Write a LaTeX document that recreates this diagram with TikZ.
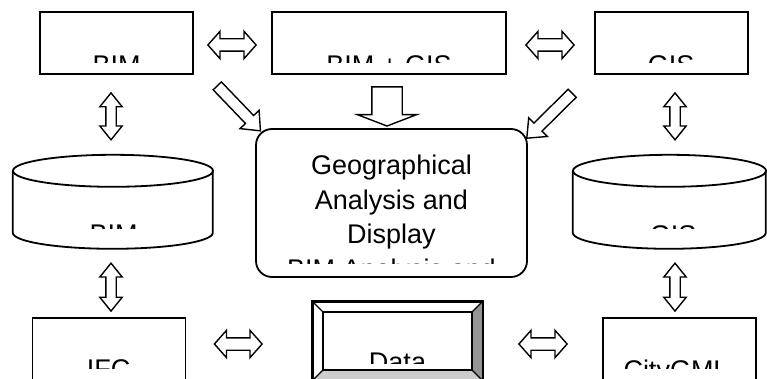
\documentclass[tikz,border=0pt]{standalone}
\usepackage{fontspec}
\setmainfont{Liberation Sans}
\usetikzlibrary{positioning, calc, shapes.arrows}

\tikzset{
  box/.style={draw, line width=1.8pt, minimum width=153pt, minimum height=62pt, inner sep=0pt},
  store/.style={minimum width=200pt, minimum height=94pt, inner sep=0pt},
  word/.style={anchor=base, inner sep=0pt, font=\fontsize{27pt}{34pt}\selectfont},
  twoway/.style={double arrow, draw, line width=1.4pt, inner xsep=0pt, inner ysep=5.5pt,
    double arrow head extend=7.5pt, double arrow tip angle=97},
  updown/.style={double arrow, draw, line width=1.4pt, inner xsep=0pt, inner ysep=4.5pt,
    double arrow head extend=6pt, double arrow tip angle=78},
  slant/.style={single arrow, draw, line width=1.4pt, inner xsep=0pt, inner ysep=5pt,
    single arrow head extend=7.5pt, single arrow tip angle=80},
  bulky/.style={single arrow, draw, line width=1.4pt, inner xsep=0pt, inner ysep=14.5pt,
    single arrow head extend=14.5pt, single arrow tip angle=138},
}

% fat outlined arrow between two named points
\newcommand{\fatlink}[4]{%
  \path let \p1=(#2), \p2=(#3),
    \n1={atan2(\y2-\y1,\x2-\x1)}, \n2={veclen(\x2-\x1,\y2-\y1)}
  in node[#1, rotate=\n1, minimum height=\n2] (#4) at ($(\p1)!0.5!(\p2)$) {};}

% label whose lower part is cut away at height #4
\newcommand{\cutword}[5]{%
  \begin{scope}
    \clip (#2-160,0) rectangle (#2+160,#4);
    \node[word] (#1) at (#2,#3) {#5};
  \end{scope}}

% drum outline round a store node, #2 = x radius
\newcommand{\drum}[2]{%
  \draw[line width=1.8pt] (#1.north west) ++(0,16) -- ++(0,62)
    arc[start angle=180, end angle=360, x radius=#2pt, y radius=16pt] -- ++(0,-62);
  \draw[line width=1.8pt] (#1.north) ++(0,16) ellipse [x radius=#2pt, y radius=16pt];}

\begin{document}
\begin{tikzpicture}[x=1pt, y=-1pt]
  \clip (0,0) rectangle (767,379);

  % top row
  \node[box] (bim) at (116.5,43) {};
  \node[box, minimum width=234pt] (bimgis) at (389,43) {};
  \node[box] (gis) at (671.5,43) {};

  % stores
  \node[store] (bimdb) at (113,202) {};
  \node[store, minimum width=193pt] (gisdb) at (669.5,202) {};
  \drum{bimdb}{100}
  \drum{gisdb}{96.5}

  % centre
  \node[draw, line width=1.8pt, rounded corners=16pt, minimum width=271pt,
    minimum height=148pt] (geo) at (391.5,203) {};

  % bottom row
  \node[box, minimum height=61.5pt] (ifc) at (109,348.75) {};
  \node[draw, line width=1.8pt, minimum width=169pt, minimum height=78pt] (data) at (397.5,341) {};
  \node[box, minimum height=61.5pt] (citygml) at (679.5,348.75) {};

  % bevel of the data box
  \path (data.north west) ++(11,11) coordinate (dnw);
  \path (data.north east) ++(-11,11) coordinate (dne);
  \path (data.south east) ++(-11,-11) coordinate (dse);
  \path (data.south west) ++(11,-11) coordinate (dsw);
  \fill[black!42] (data.north east) -- (dne) -- (dse) -- (data.south east) -- cycle;
  \fill[black!20] (data.south west) -- (dsw) -- (dse) -- (data.south east) -- cycle;
  \draw[line width=1.8pt] (data.north west) rectangle (data.south east);
  \draw[line width=1.8pt] (dnw) rectangle (dse);
  \draw[line width=1.3pt] (data.north west) -- (dnw);
  \draw[line width=1.3pt] (data.north east) -- (dne);
  \draw[line width=1.3pt] (data.south east) -- (dse);
  \draw[line width=1.3pt] (data.south west) -- (dsw);

  % labels
  \cutword{bimtxt}{116.5}{74.3}{63}{BIM}
  \cutword{bimgistxt}{389}{74.3}{63}{BIM + GIS}
  \cutword{gistxt}{671}{74.3}{63}{GIS}
  \cutword{bimdbtxt}{113.5}{243.3}{228}{BIM}
  \cutword{gisdbtxt}{673}{244.3}{228}{GIS}
  \cutword{ifctxt}{108.5}{378.3}{368}{IFC}
  \cutword{datatxt}{397.5}{371.3}{363}{Data}
  \cutword{citytxt}{676}{379.3}{368}{CityGML}
  \begin{scope}
    \clip (250,129) rectangle (530,263);
    \foreach \t [count=\i] in {Geographical, Analysis and, Display, BIM Analysis and}
      \node[word] (geo\i) at (391.5,{175+34.4*(\i-1)}) {\t};
  \end{scope}

  % arrow ends
  \path (bim.east) ++(14,2) coordinate (h1a);
  \path (bimgis.west) ++(-15,2) coordinate (h1b);
  \path (bimgis.east) ++(19,2) coordinate (h2a);
  \path (gis.west) ++(-20,2) coordinate (h2b);
  \path (bim.south) ++(-5.5,18) coordinate (v1a);
  \path (bimdb.north) ++(-2,-15) coordinate (v1b);
  \path (gis.south) ++(3.5,18) coordinate (v2a);
  \path (gisdb.north) ++(5.5,-15) coordinate (v2b);
  \path (bimdb.south) ++(-2,14) coordinate (v3a);
  \path (ifc.north) ++(2,-6) coordinate (v3b);
  \path (gisdb.south) ++(5.5,14) coordinate (v4a);
  \path (citygml.north) ++(-4.5,-6) coordinate (v4b);
  \path (ifc.east) ++(28,-4.75) coordinate (h3a);
  \path (data.west) ++(-50,3) coordinate (h3b);
  \path (data.east) ++(36,3) coordinate (h4a);
  \path (citygml.west) ++(-35,-4.75) coordinate (h4b);
  \path (bim.south east) ++(21,8.5) coordinate (s1a);
  \path (geo.north west) ++(3,0.3) coordinate (s1b);
  \path (gis.south west) ++(-19.5,16) coordinate (s2a);
  \path (geo.north east) ++(1.3,7.7) coordinate (s2b);
  \path (bimgis.south) ++(-2,9) coordinate (d1a);
  \path (geo.north) ++(-4.5,-5) coordinate (d1b);

  % arrows
  \fatlink{twoway}{h1a}{h1b}{bim-bimgis}
  \fatlink{twoway}{h2a}{h2b}{bimgis-gis}
  \fatlink{updown}{v1a}{v1b}{bim-bimdb}
  \fatlink{updown}{v2a}{v2b}{gis-gisdb}
  \fatlink{updown}{v3a}{v3b}{bimdb-ifc}
  \fatlink{updown}{v4a}{v4b}{gisdb-city}
  \fatlink{twoway}{h3a}{h3b}{ifc-data}
  \fatlink{twoway}{h4a}{h4b}{data-city}
  \fatlink{slant}{s1a}{s1b}{bim-geo}
  \fatlink{slant}{s2a}{s2b}{gis-geo}
  \fatlink{bulky}{d1a}{d1b}{bimgis-geo}
\end{tikzpicture}
\end{document}
